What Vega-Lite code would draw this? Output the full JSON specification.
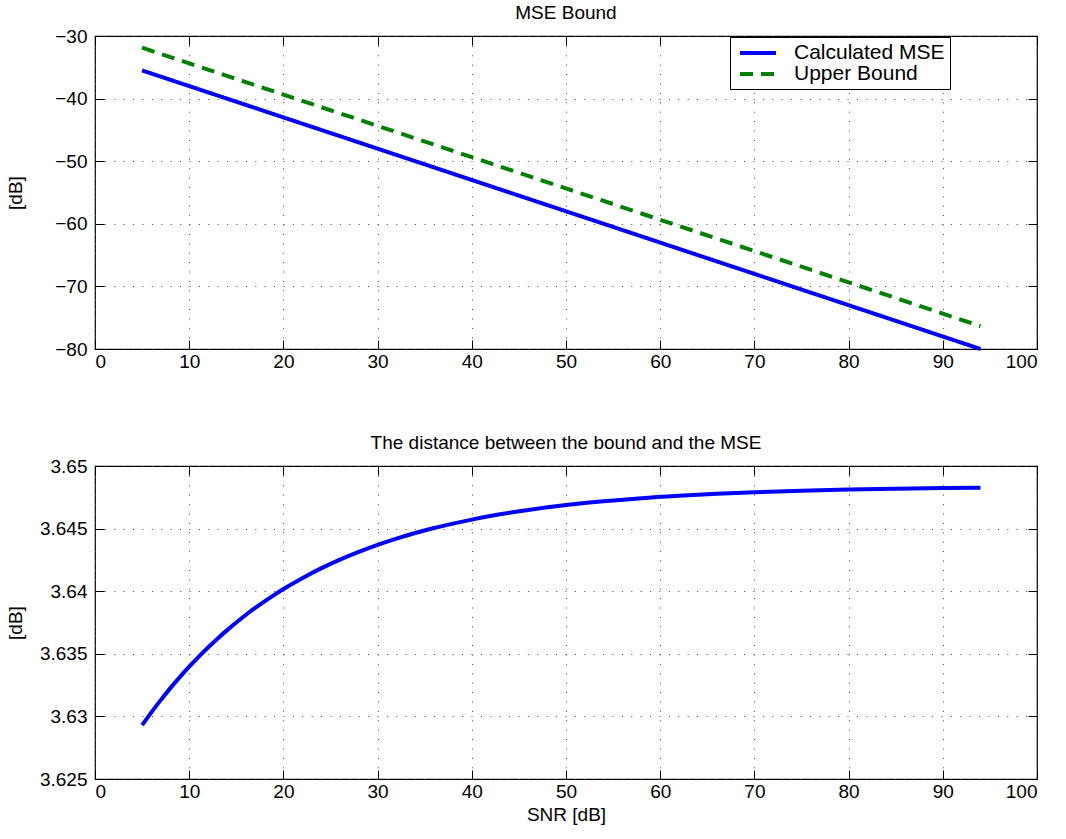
{
  "$schema": "https://vega.github.io/schema/vega-lite/v6.json",
  "padding": {"left": 5, "top": 3, "right": 20, "bottom": 3},
  "background": "white",
  "config": {
    "font": "Liberation Sans",
    "view": {"stroke": "#000", "strokeWidth": 1.2},
    "axis": {
      "domain": false,
      "labelFont": "Liberation Sans",
      "labelFontSize": 19,
      "labelColor": "#000",
      "titleFont": "Liberation Sans",
      "titleFontSize": 19,
      "titleFontWeight": "normal",
      "titleColor": "#000",
      "tickColor": "#000",
      "tickSize": -9,
      "tickWidth": 1,
      "gridColor": "#444",
      "gridDash": [1, 8.4],
      "gridWidth": 1,
      "gridOpacity": 1
    },
    "title": {"font": "Liberation Sans", "fontSize": 19, "fontWeight": "normal", "color": "#000", "baseline": "alphabetic", "offset": 4},
    "legend": {"labelFont": "Liberation Sans"}
  },
  "datasets": {
    "d": [
      {"snr": 5, "mse": -35.5, "bound": -31.8707, "dist": 3.6293},
      {"snr": 6, "mse": -36, "bound": -32.3697, "dist": 3.63034},
      {"snr": 7, "mse": -36.5, "bound": -32.8687, "dist": 3.63132},
      {"snr": 8, "mse": -37, "bound": -33.3677, "dist": 3.63226},
      {"snr": 9, "mse": -37.5, "bound": -33.8669, "dist": 3.63314},
      {"snr": 10, "mse": -38, "bound": -34.366, "dist": 3.63397},
      {"snr": 11, "mse": -38.5, "bound": -34.8652, "dist": 3.63476},
      {"snr": 12, "mse": -39, "bound": -35.3645, "dist": 3.6355},
      {"snr": 13, "mse": -39.5, "bound": -35.8638, "dist": 3.63621},
      {"snr": 14, "mse": -40, "bound": -36.3631, "dist": 3.63687},
      {"snr": 15, "mse": -40.5, "bound": -36.8625, "dist": 3.6375},
      {"snr": 16, "mse": -41, "bound": -37.3619, "dist": 3.6381},
      {"snr": 17, "mse": -41.5, "bound": -37.8613, "dist": 3.63866},
      {"snr": 18, "mse": -42, "bound": -38.3608, "dist": 3.63919},
      {"snr": 19, "mse": -42.5, "bound": -38.8603, "dist": 3.63969},
      {"snr": 20, "mse": -43, "bound": -39.3598, "dist": 3.64017},
      {"snr": 22, "mse": -44, "bound": -40.3589, "dist": 3.64104},
      {"snr": 24, "mse": -45, "bound": -41.3582, "dist": 3.64182},
      {"snr": 26, "mse": -46, "bound": -42.3575, "dist": 3.64252},
      {"snr": 28, "mse": -47, "bound": -43.3568, "dist": 3.64314},
      {"snr": 30, "mse": -48, "bound": -44.3563, "dist": 3.6437},
      {"snr": 32, "mse": -49, "bound": -45.3558, "dist": 3.6442},
      {"snr": 34, "mse": -50, "bound": -46.3553, "dist": 3.64465},
      {"snr": 36, "mse": -51, "bound": -47.3549, "dist": 3.64505},
      {"snr": 38, "mse": -52, "bound": -48.3546, "dist": 3.6454},
      {"snr": 40, "mse": -53, "bound": -49.3543, "dist": 3.64572},
      {"snr": 43, "mse": -54.5, "bound": -50.8538, "dist": 3.64614},
      {"snr": 46, "mse": -56, "bound": -52.3535, "dist": 3.64649},
      {"snr": 50, "mse": -58, "bound": -54.3531, "dist": 3.64688},
      {"snr": 54, "mse": -60, "bound": -56.3528, "dist": 3.64718},
      {"snr": 58, "mse": -62, "bound": -58.3526, "dist": 3.64743},
      {"snr": 62, "mse": -64, "bound": -60.3524, "dist": 3.64762},
      {"snr": 66, "mse": -66, "bound": -62.3522, "dist": 3.64778},
      {"snr": 70, "mse": -68, "bound": -64.3521, "dist": 3.6479},
      {"snr": 75, "mse": -70.5, "bound": -66.852, "dist": 3.64803},
      {"snr": 80, "mse": -73, "bound": -69.3519, "dist": 3.64812},
      {"snr": 85, "mse": -75.5, "bound": -71.8518, "dist": 3.64819},
      {"snr": 90, "mse": -78, "bound": -74.3518, "dist": 3.64824},
      {"snr": 94, "mse": -80, "bound": -76.3517, "dist": 3.64827}
    ]
  },
  "spacing": 61,
  "vconcat": [
    {
      "width": 942,
      "height": 313,
      "title": {"text": "MSE Bound"},
      "data": {"name": "d"},
      "resolve": {"axis": {"x": "independent", "y": "independent"}},
      "layer": [
        {
          "transform": [
            {"fold": ["mse", "bound"], "as": ["key", "val"]},
            {"lookup": "key", "from": {"data": {"values": [{"key": "mse", "series": "Calculated MSE"}, {"key": "bound", "series": "Upper Bound"}]}, "key": "key", "fields": ["series"]}}
          ],
          "mark": {"type": "line", "strokeWidth": 4, "strokeCap": "butt"},
          "encoding": {
            "x": {"field": "snr", "type": "quantitative", "scale": {"domain": [0, 100], "nice": false},
                  "axis": {"values": [0,10,20,30,40,50,60,70,80,90,100], "title": null, "labelPadding": 12, "grid": true}},
            "y": {"field": "val", "type": "quantitative", "scale": {"domain": [-80, -30], "nice": false, "zero": false},
                  "axis": {"values": [-80,-70,-60,-50,-40,-30], "title": "[dB]", "labelPadding": 17, "grid": true, "titleX": -70, "titleY": 156.5}},
            "color": {"field": "series", "type": "nominal", "title": null,
                      "scale": {"domain": ["Calculated MSE", "Upper Bound"], "range": ["#0000ff", "#008000"]},
                      "legend": {"orient": "none", "legendX": 635, "legendY": 1, "strokeColor": "#000", "fillColor": "#fff", "padding": 5, "labelFontSize": 21, "labelColor": "#000", "symbolType": "M-2,0L2,0", "symbolSize": 324, "symbolStrokeWidth": 4, "labelOffset": 25, "rowPadding": 0, "symbolOffset": 12, "labelLimit": 400}},
            "strokeDash": {"field": "series", "type": "nominal", "title": null,
                           "scale": {"domain": ["Calculated MSE", "Upper Bound"], "range": [[1, 0], [13, 8]]}}
          }
        },
        {
          "mark": {"type": "line", "opacity": 0},
          "encoding": {
            "x": {"field": "snr", "type": "quantitative", "axis": {"orient": "top", "labels": false, "grid": false, "title": null, "values": [0,10,20,30,40,50,60,70,80,90,100]}},
            "y": {"field": "mse", "type": "quantitative", "axis": {"orient": "right", "labels": false, "grid": false, "title": null, "values": [-80,-70,-60,-50,-40,-30]}}
          }
        }
      ]
    },
    {
      "width": 942,
      "height": 313,
      "title": {"text": "The distance between the bound and the MSE"},
      "data": {"name": "d"},
      "resolve": {"axis": {"x": "independent", "y": "independent"}},
      "layer": [
        {
          "mark": {"type": "line", "strokeWidth": 4, "color": "#0000ff", "strokeCap": "butt", "interpolate": "monotone"},
          "encoding": {
            "x": {"field": "snr", "type": "quantitative", "scale": {"domain": [0, 100], "nice": false},
                  "axis": {"values": [0,10,20,30,40,50,60,70,80,90,100], "title": "SNR [dB]", "labelPadding": 12, "titlePadding": 4, "grid": true}},
            "y": {"field": "dist", "type": "quantitative", "scale": {"domain": [3.625, 3.65], "nice": false, "zero": false},
                  "axis": {"values": [3.625, 3.63, 3.635, 3.64, 3.645, 3.65], "format": "~g", "title": "[dB]", "labelPadding": 17, "grid": true, "titleX": -70, "titleY": 156.5}}
          }
        },
        {
          "mark": {"type": "line", "opacity": 0},
          "encoding": {
            "x": {"field": "snr", "type": "quantitative", "axis": {"orient": "top", "labels": false, "grid": false, "title": null, "values": [0,10,20,30,40,50,60,70,80,90,100]}},
            "y": {"field": "dist", "type": "quantitative", "axis": {"orient": "right", "labels": false, "grid": false, "title": null, "values": [3.625, 3.63, 3.635, 3.64, 3.645, 3.65]}}
          }
        }
      ]
    }
  ]
}
